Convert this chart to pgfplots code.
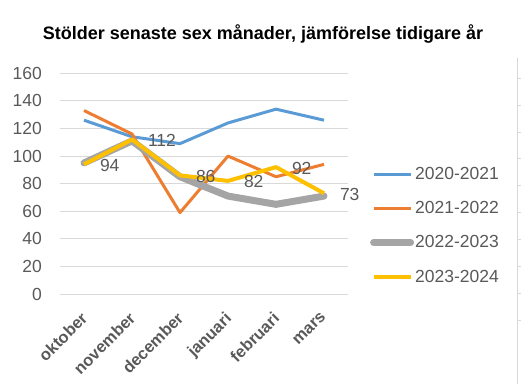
\documentclass[border=0pt]{standalone}
\usepackage{fontspec}
\setmainfont{Liberation Sans}
\usepackage{pgfplots}
\pgfplotsset{compat=1.18}
\definecolor{cBlue}{HTML}{5B9BD5}
\definecolor{cOrange}{HTML}{ED7D31}
\definecolor{cGray}{HTML}{A5A5A5}
\definecolor{cYellow}{HTML}{FFC000}
\definecolor{txt}{HTML}{595959}
\definecolor{gridc}{HTML}{D9D9D9}
\newcommand\lbl{\fontsize{17.5bp}{20bp}\selectfont}
\newcommand\xlbl{\fontsize{16.5bp}{19bp}\selectfont}
\begin{document}
\begin{tikzpicture}
\path[use as bounding box] (0,0) rectangle (532bp,384bp);
\node[font=\bfseries\fontsize{18bp}{22bp}\selectfont, text=black] at (263bp,350bp) {Stölder senaste sex månader, jämförelse tidigare år};
\begin{axis}[
  at={(60bp,90bp)}, anchor=south west,
  scale only axis, width=288bp, height=220.7bp,
  xmin=-0.5, xmax=5.5, ymin=0, ymax=160,
  clip=false,
  xtick={0,1,2,3,4,5},
  xticklabels={oktober,november,december,januari,februari,mars},
  ytick={0,20,40,60,80,100,120,140,160},
  axis line style={draw=none},
  major tick length=0pt,
  ymajorgrids, grid style={gridc, line width=1bp},
  /pgf/number format/assume math mode=true,
  yticklabel style={font=\lbl, text=txt, anchor=east, inner sep=0pt, xshift=-18bp},
  xticklabel style={xshift=-4bp, yshift=-17bp, font=\bfseries\xlbl, text=txt, rotate=45, anchor=north east, inner sep=0pt},
  legend style={at={(axis description cs:1.076,0.58)}, anchor=north west, draw=none, fill=none, inner sep=0pt, font=\lbl, text=txt, row sep=18.5bp, nodes={inner sep=1bp, anchor=west}},
  legend cell align=left,
  legend image code/.code={\draw[#1] (0bp,0bp) -- (37bp,0bp);},
]
\addplot[cBlue, line width=3bp, line join=round] coordinates {(0,126) (1,114) (2,109) (3,124) (4,134) (5,126)};
\addlegendentry{2020-2021}
\addplot[cOrange, line width=3bp, line join=round] coordinates {(0,133) (1,116) (2,59) (3,100) (4,85) (5,94)};
\addlegendentry{2021-2022}
\addplot[cGray, line width=7bp, line join=round, line cap=round] coordinates {(0,95) (1,111) (2,85) (3,71) (4,65) (5,71)};
\addlegendentry{2022-2023}
\addplot[cYellow, line width=4bp, line join=round, nodes near coords,
  every node near coord/.append style={anchor=west, xshift=14bp, yshift=-1bp, inner sep=0pt, text=txt, font=\lbl}]
  coordinates {(0,94) (1,112) (2,86) (3,82) (4,92) (5,73)};
\addlegendentry{2023-2024}
\end{axis}
\draw[gridc, line width=1bp] (517.7bp,0bp) -- (517.7bp,326bp);
\foreach \y in {305.7,278.8,251.9,225,198.1,171.2,144.3,117.4,90.5,63.6} \draw[gridc, line width=1bp] (517.7bp,\y bp) -- (521bp,\y bp);
\end{tikzpicture}
\end{document}
